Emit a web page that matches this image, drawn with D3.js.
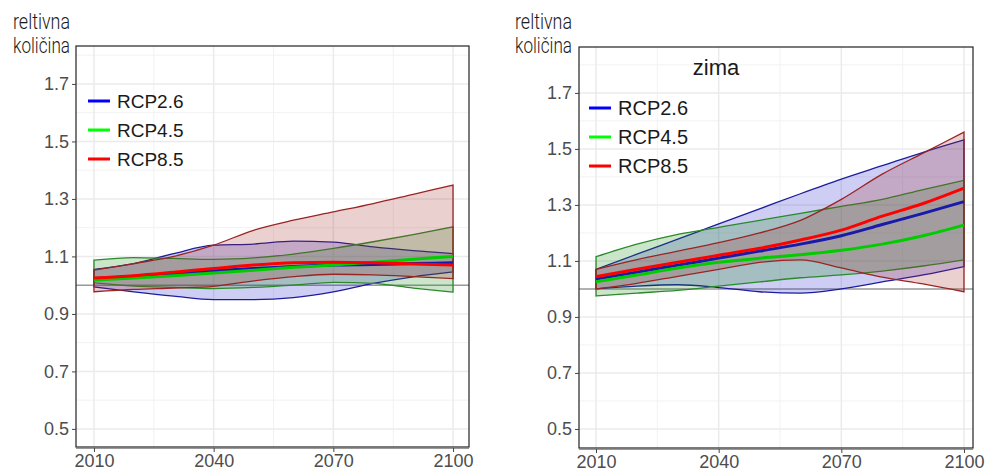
<!DOCTYPE html>
<html>
<head>
<meta charset="utf-8">
<script src="https://cdn.jsdelivr.net/npm/d3@7"></script>
<style>
  body { margin: 0; background: #fff; }
  svg { display: block; }
</style>
</head>
<body>
<div id="chart"></div>
<script>
var width  = 988;
var height = 472;

// data
var years = [2010, 2020, 2030, 2040, 2050, 2060, 2070, 2080, 2090, 2100];
var scenarios = ["RCP2.6", "RCP4.5", "RCP8.5"];
var yTicks = [0.5, 0.7, 0.9, 1.1, 1.3, 1.5, 1.7];
var xTicks = [2010, 2040, 2070, 2100];

// left panel (no title)
var leftLo26  = [0.994, 0.977, 0.962, 0.950, 0.950, 0.957, 0.977, 1.006, 1.029, 1.046];
var leftMid26 = [1.023, 1.030, 1.040, 1.050, 1.058, 1.065, 1.070, 1.072, 1.075, 1.078];
var leftHi26  = [1.055, 1.075, 1.110, 1.139, 1.143, 1.153, 1.150, 1.133, 1.120, 1.110];
var leftLo45  = [1.008, 0.997, 0.992, 0.988, 0.992, 1.000, 1.010, 1.006, 0.990, 0.976];
var leftMid45 = [1.018, 1.025, 1.033, 1.042, 1.052, 1.062, 1.070, 1.080, 1.090, 1.100];
var leftHi45  = [1.087, 1.096, 1.093, 1.090, 1.095, 1.108, 1.128, 1.151, 1.176, 1.203];
var leftLo85  = [0.977, 0.985, 0.990, 0.996, 1.015, 1.030, 1.038, 1.036, 1.030, 1.023];
var leftMid85 = [1.025, 1.033, 1.045, 1.058, 1.070, 1.078, 1.080, 1.078, 1.074, 1.070];
var leftHi85  = [1.052, 1.075, 1.100, 1.139, 1.191, 1.226, 1.255, 1.284, 1.316, 1.348];

// right panel (zima)
var rightLo26  = [1.000, 1.010, 1.015, 1.005, 0.990, 0.985, 1.000, 1.025, 1.050, 1.080];
var rightMid26 = [1.035, 1.060, 1.085, 1.110, 1.135, 1.160, 1.190, 1.230, 1.270, 1.312];
var rightHi26  = [1.070, 1.124, 1.178, 1.232, 1.286, 1.340, 1.392, 1.440, 1.488, 1.532];
var rightLo45  = [0.975, 0.985, 0.995, 1.010, 1.025, 1.040, 1.050, 1.064, 1.082, 1.104];
var rightMid45 = [1.026, 1.050, 1.075, 1.095, 1.110, 1.122, 1.138, 1.160, 1.190, 1.228];
var rightHi45  = [1.115, 1.160, 1.195, 1.220, 1.245, 1.270, 1.295, 1.320, 1.355, 1.388];
var rightLo85  = [1.000, 1.020, 1.045, 1.070, 1.095, 1.104, 1.075, 1.042, 1.018, 0.990];
var rightMid85 = [1.044, 1.070, 1.095, 1.120, 1.145, 1.175, 1.210, 1.260, 1.305, 1.360];
var rightHi85  = [1.070, 1.105, 1.135, 1.165, 1.200, 1.245, 1.320, 1.410, 1.485, 1.560];

var bandStroke = ["#1c1c9c", "#2a8a2a", "#9a2424"];
var bandFill   = ["#2222cc", "#108a10", "#a52a2a"];
var lineColor  = ["#1a1aaa", "#00cc00", "#ff0000"];
var legendColor = ["#0000ff", "#00ff00", "#ff0000"];

var svg = d3.select("#chart")
    .append("svg")
    .attr("width", width)
    .attr("height", height);

function makeSeries(lo, mid, hi) {
  return years.map(function(y, i) {
    return {year: y, lo: lo[i], mid: mid[i], hi: hi[i]};
  });
}

drawPanel({
  left: 76, right: 469, top: 46, bottom: 447,
  xDomain: [2005.5, 2104], yDomain: [0.437, 1.832],
  labelX: 70, legendX: 88, legendY: 101, legendStep: 29, legendFont: 19,
  title: null,
  series: [makeSeries(leftLo26, leftMid26, leftHi26),
           makeSeries(leftLo45, leftMid45, leftHi45),
           makeSeries(leftLo85, leftMid85, leftHi85)]
});

drawPanel({
  left: 579, right: 973, top: 47, bottom: 448,
  xDomain: [2005.84, 2102.2], yDomain: [0.432, 1.864],
  labelX: 572, legendX: 589, legendY: 108, legendStep: 29, legendFont: 20,
  title: "zima",
  series: [makeSeries(rightLo26, rightMid26, rightHi26),
           makeSeries(rightLo45, rightMid45, rightHi45),
           makeSeries(rightLo85, rightMid85, rightHi85)]
});

function drawPanel(p) {
  var x = d3.scaleLinear().domain(p.xDomain).range([p.left, p.right]);
  var y = d3.scaleLinear().domain(p.yDomain).range([p.bottom, p.top]);
  var g = svg.append("g");

  // grid
  var minorX = [1995, 2025, 2055, 2085, 2115].filter(function(d) { return d > p.xDomain[0] && d < p.xDomain[1]; });
  var minorY = d3.range(0.4, 1.9, 0.2).filter(function(d) { return d > p.yDomain[0] && d < p.yDomain[1]; });

  g.selectAll(".gx-minor").data(minorX).enter().append("line")
    .attr("x1", x).attr("x2", x).attr("y1", p.top).attr("y2", p.bottom)
    .attr("stroke", "#f2f2f2").attr("stroke-width", 1);
  g.selectAll(".gy-minor").data(minorY).enter().append("line")
    .attr("y1", y).attr("y2", y).attr("x1", p.left).attr("x2", p.right)
    .attr("stroke", "#f2f2f2").attr("stroke-width", 1);
  g.selectAll(".gx").data(xTicks).enter().append("line")
    .attr("x1", x).attr("x2", x).attr("y1", p.top).attr("y2", p.bottom)
    .attr("stroke", "#ebebeb").attr("stroke-width", 1.5);
  g.selectAll(".gy").data(yTicks).enter().append("line")
    .attr("y1", y).attr("y2", y).attr("x1", p.left).attr("x2", p.right)
    .attr("stroke", "#ebebeb").attr("stroke-width", 1.5);

  // reference line at 1
  g.append("line")
    .attr("x1", p.left).attr("x2", p.right)
    .attr("y1", y(1)).attr("y2", y(1))
    .attr("stroke", "#9a9a9a").attr("stroke-width", 1.5);

  var area = d3.area()
    .x(function(d) { return x(d.year); })
    .y0(function(d) { return y(d.lo); })
    .y1(function(d) { return y(d.hi); })
    .curve(d3.curveMonotoneX);

  var line = d3.line()
    .x(function(d) { return x(d.year); })
    .y(function(d) { return y(d.mid); })
    .curve(d3.curveMonotoneX);

  p.series.forEach(function(s, i) {
    g.append("path")
      .attr("d", area(s) + "Z")
      .attr("fill", bandFill[i])
      .attr("fill-opacity", 0.22)
      .attr("stroke", bandStroke[i])
      .attr("stroke-width", 1.3);
  });

  p.series.forEach(function(s, i) {
    g.append("path")
      .attr("d", line(s))
      .attr("fill", "none")
      .attr("stroke", lineColor[i])
      .attr("stroke-width", 3);
  });

  // panel border
  g.append("rect")
    .attr("x", p.left).attr("y", p.top)
    .attr("width", p.right - p.left).attr("height", p.bottom - p.top)
    .attr("fill", "none").attr("stroke", "#222").attr("stroke-width", 1.2);
  g.append("line")
    .attr("x1", p.left).attr("x2", p.right)
    .attr("y1", p.bottom + 1).attr("y2", p.bottom + 1)
    .attr("stroke", "#777").attr("stroke-width", 1.5);

  // axes
  var yAxis = d3.axisLeft(y).tickValues(yTicks).tickSize(4).tickPadding(3)
    .tickFormat(d3.format(".1f"));
  var ya = g.append("g").attr("transform", "translate(" + p.left + ",0)").call(yAxis);
  ya.select(".domain").remove();
  ya.selectAll("line").attr("stroke", "#444");
  ya.selectAll("text").attr("fill", "#4d4d4d")
    .style("font-family", "Liberation Sans, Arial, sans-serif").style("font-size", "18px");

  var xAxis = d3.axisBottom(x).tickValues(xTicks).tickSize(4).tickPadding(2)
    .tickFormat(d3.format("d"));
  var xa = g.append("g").attr("transform", "translate(0," + (p.bottom + 1) + ")").call(xAxis);
  xa.select(".domain").remove();
  xa.selectAll("line").attr("stroke", "#444");
  xa.selectAll("text").attr("fill", "#4d4d4d")
    .style("font-family", "Liberation Sans, Arial, sans-serif").style("font-size", "18px");

  // y label (narrow face in the original)
  var lab = g.append("text")
    .attr("text-anchor", "end")
    .style("font-family", "Roboto, sans-serif")
    .style("font-weight", 300)
    .style("font-size", "22px")
    .attr("fill", "#1a1a1a");
  lab.append("tspan").attr("x", p.labelX).attr("y", 29)
    .attr("textLength", 57).attr("lengthAdjust", "spacingAndGlyphs").text("reltivna");
  lab.append("tspan").attr("x", p.labelX).attr("y", 53)
    .attr("textLength", 57).attr("lengthAdjust", "spacingAndGlyphs").text("količina");

  // title
  if (p.title) {
    g.append("text")
      .attr("x", (p.left + p.right) / 2 - 60)
      .attr("y", 75)
      .attr("text-anchor", "middle")
      .style("font-family", "Liberation Sans, Arial, sans-serif")
      .style("font-size", "22px")
      .attr("fill", "#1a1a1a")
      .text(p.title);
  }

  // legend
  var leg = g.selectAll(".leg").data(scenarios).enter().append("g")
    .attr("transform", function(d, i) { return "translate(" + p.legendX + "," + (p.legendY + i * p.legendStep) + ")"; });
  leg.append("line")
    .attr("x1", 0).attr("x2", 22).attr("y1", 0).attr("y2", 0)
    .attr("stroke", function(d, i) { return legendColor[i]; })
    .attr("stroke-width", 3);
  leg.append("text")
    .attr("x", 29).attr("y", 7)
    .style("font-family", "Liberation Sans, Arial, sans-serif")
    .style("font-size", p.legendFont + "px")
    .attr("fill", "#1a1a1a")
    .text(function(d) { return d; });
}
</script>
</body>
</html>
